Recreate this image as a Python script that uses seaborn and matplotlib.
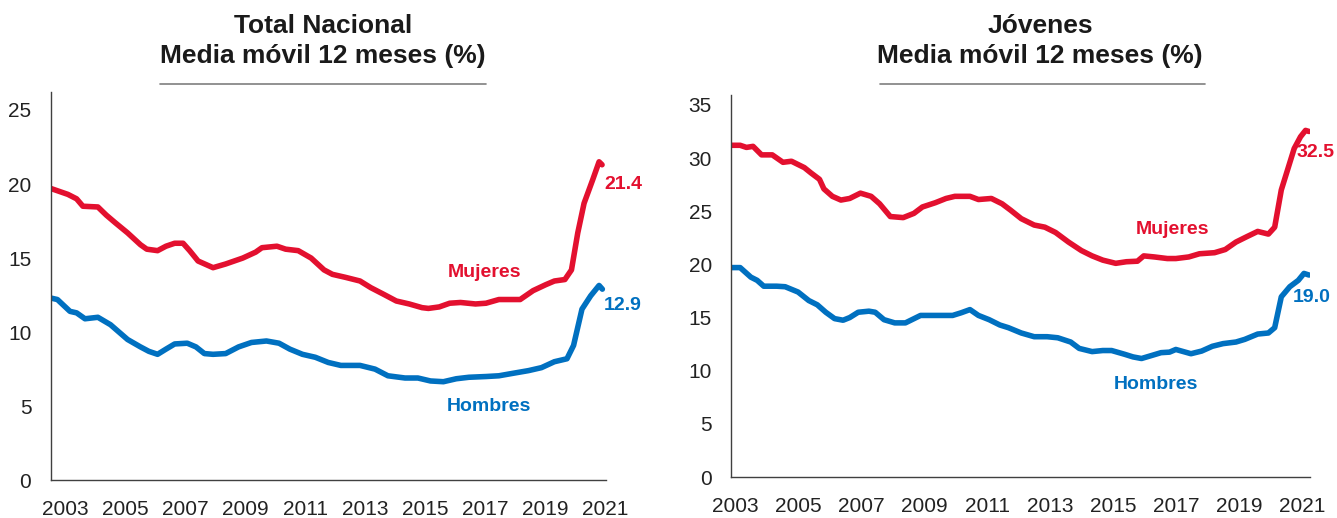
import matplotlib
matplotlib.use("Agg")
from matplotlib import pyplot as plt
import pandas as pd
import seaborn as sns

# --- Total Nacional (left panel) ---
tn_m_year = [2002.50, 2003.07, 2003.36, 2003.57, 2004.07, 2004.35, 2004.64, 2005.06, 2005.49, 2005.70,
             2006.06, 2006.34, 2006.63, 2006.91, 2007.13, 2007.41, 2007.91, 2008.33, 2008.90, 2009.33,
             2009.54, 2010.04, 2010.33, 2010.75, 2011.18, 2011.61, 2011.89, 2012.32, 2012.81, 2013.17,
             2013.60, 2014.02, 2014.45, 2014.88, 2015.09, 2015.45, 2015.80, 2016.16, 2016.66, 2017.01,
             2017.44, 2017.79, 2018.15, 2018.58, 2019.00, 2019.29, 2019.64, 2019.86, 2020.07, 2020.28,
             2020.57, 2020.78, 2020.88]
tn_mujeres = [19.7, 19.3, 19.0, 18.5, 18.45, 17.9, 17.4, 16.7, 15.9, 15.6,
              15.5, 15.8, 16.0, 16.0, 15.5, 14.8, 14.35, 14.6, 15.0, 15.4,
              15.7, 15.8, 15.6, 15.5, 15.0, 14.2, 13.9, 13.7, 13.45, 13.0,
              12.55, 12.1, 11.9, 11.65, 11.6, 11.7, 11.95, 12.0, 11.9, 11.95,
              12.2, 12.2, 12.2, 12.8, 13.2, 13.45, 13.55, 14.2, 16.7, 18.7,
              20.3, 21.5, 21.3]

tn_h_year = [2002.50, 2002.72, 2003.14, 2003.36, 2003.64, 2004.07, 2004.49, 2005.06, 2005.49, 2005.77,
             2006.06, 2006.34, 2006.63, 2007.05, 2007.34, 2007.62, 2007.91, 2008.33, 2008.76, 2009.19,
             2009.69, 2010.11, 2010.47, 2010.89, 2011.32, 2011.75, 2012.17, 2012.81, 2013.31, 2013.74,
             2014.31, 2014.74, 2015.16, 2015.59, 2016.02, 2016.44, 2017.01, 2017.44, 2017.86, 2018.43,
             2018.86, 2019.29, 2019.71, 2019.93, 2020.21, 2020.50, 2020.78, 2020.89]
tn_hombres = [12.3, 12.2, 11.4, 11.3, 10.9, 11.0, 10.5, 9.5, 9.0, 8.7,
              8.5, 8.85, 9.2, 9.25, 9.0, 8.55, 8.5, 8.55, 9.0, 9.3,
              9.4, 9.25, 8.85, 8.5, 8.3, 7.95, 7.75, 7.75, 7.5, 7.05,
              6.9, 6.9, 6.7, 6.65, 6.85, 6.95, 7.0, 7.05, 7.2, 7.4,
              7.6, 8.0, 8.2, 9.1, 11.55, 12.45, 13.15, 12.9]

# --- Jóvenes (right panel) ---
jv_m_year = [2002.86, 2003.14, 2003.34, 2003.55, 2003.82, 2004.16, 2004.50, 2004.77, 2005.18, 2005.39,
             2005.66, 2005.80, 2006.07, 2006.34, 2006.62, 2006.96, 2007.30, 2007.57, 2007.91, 2008.32,
             2008.66, 2008.93, 2009.34, 2009.68, 2009.96, 2010.44, 2010.71, 2011.12, 2011.46, 2011.73,
             2012.07, 2012.48, 2012.82, 2013.16, 2013.57, 2013.98, 2014.32, 2014.66, 2015.07, 2015.41,
             2015.76, 2015.96, 2016.30, 2016.71, 2016.98, 2017.39, 2017.73, 2018.21, 2018.55, 2018.89,
             2019.23, 2019.58, 2019.92, 2020.12, 2020.33, 2020.53, 2020.74, 2020.94, 2021.10, 2021.21]
jv_mujeres = [31.2, 31.2, 31.0, 31.1, 30.3, 30.3, 29.6, 29.7, 29.1, 28.6,
              28.0, 27.1, 26.4, 26.05, 26.2, 26.7, 26.4, 25.7, 24.5, 24.4,
              24.8, 25.4, 25.8, 26.2, 26.4, 26.4, 26.1, 26.2, 25.7, 25.1,
              24.3, 23.7, 23.5, 23.0, 22.1, 21.3, 20.8, 20.4, 20.1, 20.25,
              20.3, 20.8, 20.7, 20.55, 20.55, 20.7, 21.0, 21.1, 21.4, 22.1,
              22.6, 23.1, 22.85, 23.5, 27.0, 28.9, 30.9, 32.0, 32.6, 32.5]

jv_h_year = [2002.86, 2003.14, 2003.48, 2003.68, 2003.89, 2004.30, 2004.57, 2004.98, 2005.32, 2005.59,
             2005.86, 2006.14, 2006.41, 2006.62, 2006.89, 2007.23, 2007.43, 2007.71, 2008.05, 2008.39,
             2008.87, 2009.34, 2009.89, 2010.16, 2010.44, 2010.71, 2011.05, 2011.39, 2011.66, 2012.07,
             2012.48, 2012.89, 2013.23, 2013.64, 2013.91, 2014.32, 2014.66, 2014.94, 2015.35, 2015.62,
             2015.89, 2016.23, 2016.51, 2016.78, 2016.98, 2017.46, 2017.80, 2018.14, 2018.48, 2018.89,
             2019.17, 2019.58, 2019.92, 2020.12, 2020.33, 2020.60, 2020.87, 2021.05, 2021.21]
jv_hombres = [19.7, 19.7, 18.8, 18.5, 17.95, 17.95, 17.9, 17.4, 16.6, 16.2,
              15.5, 14.9, 14.75, 15.0, 15.5, 15.6, 15.5, 14.8, 14.5, 14.5,
              15.2, 15.2, 15.2, 15.45, 15.75, 15.2, 14.8, 14.3, 14.05, 13.55,
              13.2, 13.2, 13.1, 12.7, 12.1, 11.8, 11.9, 11.9, 11.55, 11.3,
              11.15, 11.45, 11.7, 11.75, 12.0, 11.6, 11.85, 12.3, 12.55, 12.7,
              12.95, 13.45, 13.55, 14.05, 16.95, 17.9, 18.5, 19.15, 19.0]

year_ticks = [2003, 2005, 2007, 2009, 2011, 2013, 2015, 2017, 2019, 2021]
titles = ["Total Nacional\nMedia móvil 12 meses (%)", "Jóvenes\nMedia móvil 12 meses (%)"]
end_labels = [("21.4", "12.9"), ("32.5", "19.0")]

RED = "#E3102F"
BLUE = "#0070C0"
FONT = ["Liberation Sans Narrow", "Liberation Sans", "DejaVu Sans"]


def build_df(m_year, m_val, h_year, h_val):
    d1 = pd.DataFrame({"year": m_year, "value": m_val, "serie": "Mujeres"})
    d2 = pd.DataFrame({"year": h_year, "value": h_val, "serie": "Hombres"})
    return pd.concat([d1, d2], ignore_index=True)


sns.set_theme(style="white")
plt.rcParams["font.family"] = FONT

fig = plt.figure(figsize=(13.37, 5.18), dpi=100)
ax_l = fig.add_axes([0.038, 0.073, 0.415, 0.749])
ax_r = fig.add_axes([0.547, 0.079, 0.433, 0.737])

panels = [
    (ax_l, build_df(tn_m_year, tn_mujeres, tn_h_year, tn_hombres), (2002.5, 2020.92), 26.2, [0, 5, 10, 15, 20, 25]),
    (ax_r, build_df(jv_m_year, jv_mujeres, jv_h_year, jv_hombres), (2002.86, 2021.25), 35.9, [0, 5, 10, 15, 20, 25, 30, 35]),
]

for ax, df, xlim, ytop, yticks in panels:
    sns.lineplot(data=df, x="year", y="value", hue="serie", palette={"Mujeres": RED, "Hombres": BLUE},
                 linewidth=4, legend=False, ax=ax, solid_capstyle="round")
    ax.set_xlim(*xlim)
    ax.set_ylim(0, ytop)
    ax.set_yticks(yticks)
    ax.set_xticks(year_ticks)
    ax.set_xlabel(None)
    ax.set_ylabel(None)
    sns.despine(ax=ax)
    for s in ["left", "bottom"]:
        ax.spines[s].set_color("#404040")
        ax.spines[s].set_linewidth(1.0)
    ax.tick_params(axis="both", length=0, labelsize=15, colors="#222222")
    ax.tick_params(axis="x", pad=14)
    ax.tick_params(axis="y", pad=14)

# titles and underline
for cx, title, x0, x1 in [(0.2415, titles[0], 0.1197, 0.3635), (0.778, titles[1], 0.658, 0.901)]:
    fig.text(cx, 0.921, title, ha="center", va="center", fontsize=19, fontweight="bold",
             color="#1a1a1a", linespacing=1.3)
    fig.add_artist(plt.Line2D([x0, x1], [0.838, 0.838], color="#7f7f7f", linewidth=1.2))

# series annotations
ax_l.text(2016.95, 14.0, "Mujeres", color=RED, fontsize=14, fontweight="bold", ha="center", va="center")
ax_l.text(2017.1, 4.95, "Hombres", color=BLUE, fontsize=14, fontweight="bold", ha="center", va="center")
ax_l.text(2020.95, 20.0, end_labels[0][0], color=RED, fontsize=14, fontweight="bold", ha="left", va="center")
ax_l.text(2020.95, 11.8, end_labels[0][1], color=BLUE, fontsize=14, fontweight="bold", ha="left", va="center")

ax_r.text(2016.88, 23.3, "Mujeres", color=RED, fontsize=14, fontweight="bold", ha="center", va="center")
ax_r.text(2016.35, 8.75, "Hombres", color=BLUE, fontsize=14, fontweight="bold", ha="center", va="center")
ax_r.text(2020.8, 30.5, end_labels[1][0], color=RED, fontsize=14, fontweight="bold", ha="left", va="center")
ax_r.text(2020.68, 16.9, end_labels[1][1], color=BLUE, fontsize=14, fontweight="bold", ha="left", va="center")

fig.savefig("out.png", dpi=100)
